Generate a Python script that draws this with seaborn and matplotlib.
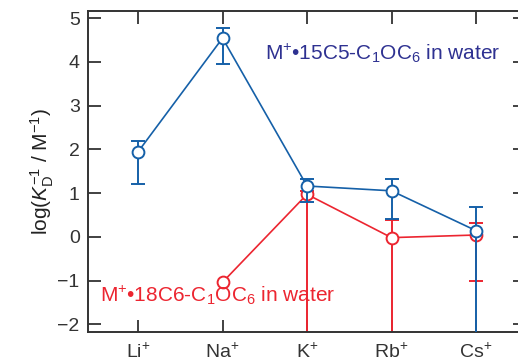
import matplotlib
matplotlib.use("Agg")
import matplotlib.pyplot as plt
import seaborn as sns
import numpy as np
import pandas as pd

# Alkali metal cations on the x axis
cations = ["Li", "Na", "K", "Rb", "Cs"]
cation_labels = [r"Li$^{+}$", r"Na$^{+}$", r"K$^{+}$", r"Rb$^{+}$", r"Cs$^{+}$"]

# M+ . 15C5-C1OC6 in water: log(K_D^-1), with lower / upper error limits
crown15_logk = [1.94, 4.54, 1.16, 1.05, 0.14]
crown15_low = [1.20, 3.94, 0.80, 0.40, -2.6]
crown15_high = [2.19, 4.78, 1.32, 1.31, 0.69]

# M+ . 18C6-C1OC6 in water (no value for Li+)
crown18_logk = [np.nan, -1.04, 0.97, -0.02, 0.04]
crown18_low = [np.nan, np.nan, -2.6, -2.6, -1.01]
crown18_high = [np.nan, np.nan, 1.05, 0.38, 0.31]

yticks = [-2, -1, 0, 1, 2, 3, 4, 5]

blue = "#1560a8"
red = "#ec2530"
blue_text = "#2e3191"

sns.set_theme(style="ticks")
plt.rcParams["font.family"] = ["Liberation Sans", "DejaVu Sans"]
plt.rcParams["mathtext.fontset"] = "custom"
plt.rcParams["mathtext.rm"] = "Liberation Sans"
plt.rcParams["mathtext.it"] = "Liberation Sans:italic"
plt.rcParams["mathtext.bf"] = "Liberation Sans:bold"

fig = plt.figure(figsize=(5.18, 3.62), dpi=100)
ax = fig.add_axes([88 / 518, 1 - 331.7 / 362, (525 - 88) / 518, (331.7 - 11) / 362])

pos = np.arange(len(cations))
df = pd.DataFrame({
    "pos": np.concatenate([pos, pos]),
    "logk": crown18_logk + crown15_logk,
    "series": ["18C6"] * 5 + ["15C5"] * 5,
})


def draw_series(logk, low, high, color, z):
    logk = np.asarray(logk, float)
    low = np.asarray(low, float)
    high = np.asarray(high, float)
    ok = ~np.isnan(low)
    ax.errorbar(pos[ok], logk[ok],
                yerr=[logk[ok] - low[ok], high[ok] - logk[ok]],
                fmt="none", ecolor=color, elinewidth=1.4, capsize=5,
                capthick=1.4, zorder=z, clip_on=True)


draw_series(crown18_logk, crown18_low, crown18_high, red, 2)
sns.lineplot(data=df[df.series == "18C6"].dropna(), x="pos", y="logk", ax=ax,
             color=red, lw=1.2, marker="o", markersize=8.5,
             markerfacecolor="white", markeredgecolor=red,
             markeredgewidth=1.4, zorder=3, legend=False)
draw_series(crown15_logk, crown15_low, crown15_high, blue, 4)
sns.lineplot(data=df[df.series == "15C5"], x="pos", y="logk", ax=ax,
             color=blue, lw=1.2, marker="o", markersize=8.5,
             markerfacecolor="white", markeredgecolor=blue,
             markeredgewidth=1.4, zorder=5, legend=False)

ax.set_xlim(-0.592, 4.58)
ax.set_ylim(-2.17, 5.16)
ax.set_xticks(pos)
ax.set_xticklabels(cation_labels)
ax.set_yticks(yticks)
ax.set_yticklabels([str(v).replace("-", "\u2212") for v in yticks])
ax.tick_params(direction="in", length=9, width=1.3, colors="#333333",
               labelsize=14, top=True, right=True, pad=6)
ax.tick_params(axis="x", pad=8)
for s in ax.spines.values():
    s.set_linewidth(1.4)
    s.set_color("#333333")
ax.set_xlabel("")
ax.set_ylabel(r"log($K_{\rm D}^{-1}$ / M$^{-1}$)", fontsize=15, color="#222222",
              labelpad=1)

ax.text(265, 362 - 53, r"M$^{+}$•15C5-C$_{1}$OC$_{6}$ in water", transform=None,
        fontsize=15, color=blue_text, va="center", ha="left")
ax.text(100, 362 - 295, r"M$^{+}$•18C6-C$_{1}$OC$_{6}$ in water", transform=None,
        fontsize=15, color=red, va="center", ha="left")

fig.savefig("out.png", dpi=100)
